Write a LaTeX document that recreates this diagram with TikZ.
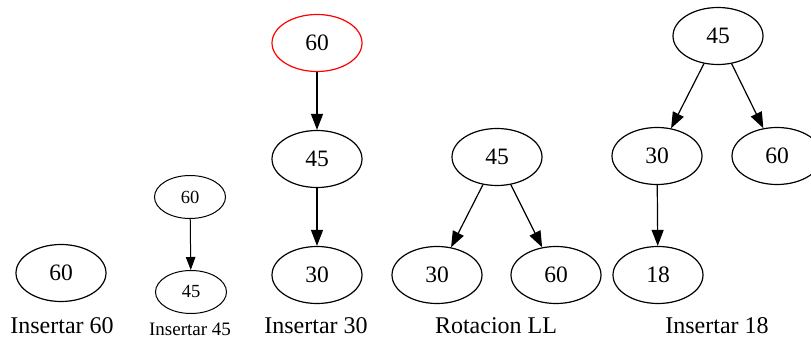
\documentclass[tikz,border=0pt]{standalone}
\usepackage{fontspec}
\setmainfont{Liberation Serif}
\usetikzlibrary{shapes.geometric,arrows.meta}
\begin{document}
\begin{tikzpicture}[x=1pt,y=-1pt,
  tnode/.style={ellipse,draw,line width=1.2pt,minimum width=90pt,minimum height=57pt,inner sep=0pt,font=\fontsize{23.5}{26}\selectfont},
  snode/.style={ellipse,draw,line width=1pt,minimum width=71pt,minimum height=43pt,inner sep=0pt,font=\fontsize{18.5}{21}\selectfont},
  treelabel/.style={inner sep=0pt,font=\fontsize{24}{26}\selectfont},
  streelabel/.style={inner sep=0pt,font=\fontsize{19}{21}\selectfont},
  arr/.style={line width=1.2pt,-{Triangle[length=16pt,width=12pt]}},
  sarr/.style={line width=1pt,-{Triangle[length=13pt,width=9.5pt]}}]
\useasboundingbox (0,0) rectangle (811,339);

% Insertar 60
\node[tnode] (a60) at (61,273) {60};
\node[treelabel] (la) at (62,326) {Insertar 60};

% Insertar 45
\node[snode] (b60) at (190,197) {60};
\node[snode] (b45) at (191,292) {45};
\node[streelabel] (lb) at (190,329.5) {Insertar 45};
\draw[sarr] (b60) -- (b45);

% Insertar 30
\node[tnode,draw=red] (c60) at (317,43) {60};
\node[tnode] (c45) at (317,159) {45};
\node[tnode] (c30) at (317,275) {30};
\node[treelabel] (lc) at (316,326) {Insertar 30};
\draw[arr] (c60) -- (c45);
\draw[arr] (c45) -- (c30);

% Rotacion LL
\node[tnode] (d45) at (497,157) {45};
\node[tnode] (d30) at (437,275) {30};
\node[tnode] (d60) at (556,275) {60};
\node[treelabel] (ld) at (496,326) {Rotacion LL};
\draw[arr] (d45) -- (d30);
\draw[arr] (d45) -- (d60);

% Insertar 18
\node[tnode] (e45) at (718,36) {45};
\node[tnode] (e30) at (657,156) {30};
\node[tnode] (e60) at (777,156) {60};
\node[tnode] (e18) at (658,275) {18};
\node[treelabel] (le) at (717,326) {Insertar 18};
\draw[arr] (e45) -- (e30);
\draw[arr] (e45) -- (e60);
\draw[arr] (e30) -- (e18);
\end{tikzpicture}
\end{document}
